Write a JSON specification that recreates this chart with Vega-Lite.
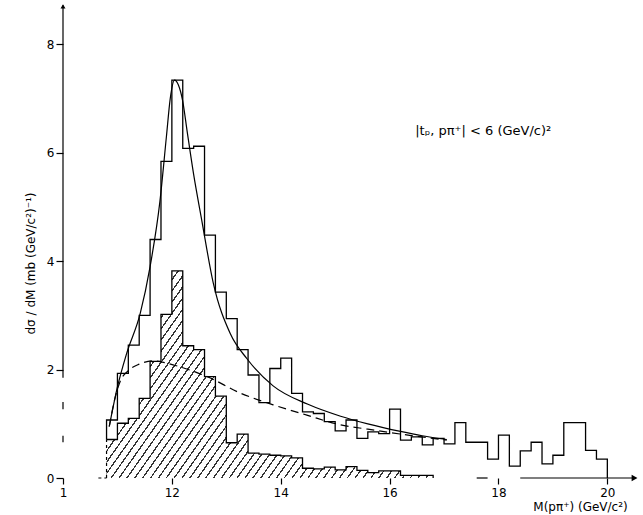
{
  "$schema": "https://vega.github.io/schema/vega-lite/v6.json",
  "width": 577,
  "height": 477,
  "autosize": "none",
  "padding": {"left": 63, "top": 1, "right": 3, "bottom": 37},
  "background": "white",
  "config": {
    "view": {"stroke": null},
    "font": "DejaVu Sans",
    "axis": {"labelColor": "black", "tickColor": "black", "titleColor": "black", "grid": false, "domain": false}
  },
  "datasets": {
    "all_events": [
      {"m": 1.08, "v": 0.71}, {"m": 1.08, "v": 1.07}, {"m": 1.10, "v": 1.93}, {"m": 1.12, "v": 2.45},
      {"m": 1.14, "v": 3.0}, {"m": 1.16, "v": 4.4}, {"m": 1.18, "v": 5.84}, {"m": 1.20, "v": 7.34},
      {"m": 1.22, "v": 6.08}, {"m": 1.24, "v": 6.12}, {"m": 1.26, "v": 4.48}, {"m": 1.28, "v": 3.43},
      {"m": 1.30, "v": 2.94}, {"m": 1.32, "v": 2.37}, {"m": 1.34, "v": 1.9}, {"m": 1.36, "v": 1.39},
      {"m": 1.38, "v": 2.02}, {"m": 1.40, "v": 2.21}, {"m": 1.42, "v": 1.56}, {"m": 1.44, "v": 1.22},
      {"m": 1.46, "v": 1.19}, {"m": 1.48, "v": 1.04}, {"m": 1.50, "v": 0.87}, {"m": 1.52, "v": 1.07},
      {"m": 1.54, "v": 0.73}, {"m": 1.56, "v": 0.85}, {"m": 1.58, "v": 0.82}, {"m": 1.60, "v": 1.27},
      {"m": 1.62, "v": 0.7}, {"m": 1.64, "v": 0.76}, {"m": 1.66, "v": 0.61}, {"m": 1.68, "v": 0.73},
      {"m": 1.70, "v": 0.63}, {"m": 1.72, "v": 1.02}, {"m": 1.74, "v": 0.66}, {"m": 1.76, "v": 0.66},
      {"m": 1.78, "v": 0.35}, {"m": 1.80, "v": 0.79}, {"m": 1.82, "v": 0.22}, {"m": 1.84, "v": 0.5},
      {"m": 1.86, "v": 0.66}, {"m": 1.88, "v": 0.26}, {"m": 1.90, "v": 0.42}, {"m": 1.92, "v": 1.02},
      {"m": 1.94, "v": 1.02}, {"m": 1.96, "v": 0.51}, {"m": 1.98, "v": 0.35}, {"m": 2.00, "v": 0}
    ],
    "selected": [
      {"m": 1.08, "v": 0.71}, {"m": 1.10, "v": 1.01}, {"m": 1.12, "v": 1.1}, {"m": 1.14, "v": 1.47},
      {"m": 1.16, "v": 2.15}, {"m": 1.18, "v": 3.02}, {"m": 1.20, "v": 3.82}, {"m": 1.22, "v": 2.44},
      {"m": 1.24, "v": 2.37}, {"m": 1.26, "v": 1.87}, {"m": 1.28, "v": 1.51}, {"m": 1.30, "v": 0.65},
      {"m": 1.32, "v": 0.81}, {"m": 1.34, "v": 0.46}, {"m": 1.36, "v": 0.44}, {"m": 1.38, "v": 0.42},
      {"m": 1.40, "v": 0.41}, {"m": 1.42, "v": 0.37}, {"m": 1.44, "v": 0.18}, {"m": 1.46, "v": 0.17},
      {"m": 1.48, "v": 0.2}, {"m": 1.50, "v": 0.15}, {"m": 1.52, "v": 0.21}, {"m": 1.54, "v": 0.14},
      {"m": 1.56, "v": 0.1}, {"m": 1.58, "v": 0.13}, {"m": 1.60, "v": 0.13}, {"m": 1.62, "v": 0.05},
      {"m": 1.64, "v": 0.05}, {"m": 1.66, "v": 0.05}, {"m": 1.68, "v": 0}
    ],
    "total_fit": [
      {"m": 1.085, "v": 0.95}, {"m": 1.10, "v": 1.68}, {"m": 1.117, "v": 2.3}, {"m": 1.142, "v": 3.04},
      {"m": 1.16, "v": 3.9}, {"m": 1.178, "v": 5.1}, {"m": 1.19, "v": 6.3}, {"m": 1.197, "v": 7.0},
      {"m": 1.205, "v": 7.34}, {"m": 1.212, "v": 7.25}, {"m": 1.22, "v": 6.95}, {"m": 1.228, "v": 6.4},
      {"m": 1.24, "v": 5.6}, {"m": 1.255, "v": 4.75}, {"m": 1.276, "v": 3.6}, {"m": 1.307, "v": 2.67},
      {"m": 1.338, "v": 2.2}, {"m": 1.386, "v": 1.7}, {"m": 1.45, "v": 1.36}, {"m": 1.51, "v": 1.14},
      {"m": 1.56, "v": 1.0}, {"m": 1.62, "v": 0.86}, {"m": 1.66, "v": 0.78}, {"m": 1.705, "v": 0.71}
    ],
    "background_fit": [
      {"m": 1.085, "v": 0.95}, {"m": 1.095, "v": 1.45}, {"m": 1.105, "v": 1.78}, {"m": 1.12, "v": 1.98},
      {"m": 1.14, "v": 2.1}, {"m": 1.165, "v": 2.16}, {"m": 1.19, "v": 2.12}, {"m": 1.215, "v": 2.05},
      {"m": 1.265, "v": 1.87}, {"m": 1.325, "v": 1.57}, {"m": 1.386, "v": 1.35}, {"m": 1.448, "v": 1.16},
      {"m": 1.51, "v": 0.98}, {"m": 1.56, "v": 0.9}, {"m": 1.62, "v": 0.81}, {"m": 1.705, "v": 0.7}
    ],
    "frame_solid": [
      {"m": 1.0, "m2": 1.0, "v": 1.85, "v2": 8.72},
      {"m": 1.0, "m2": 1.0, "v": 1.27, "v2": 1.40},
      {"m": 1.0, "m2": 1.0, "v": 0.66, "v2": 0.78},
      {"m": 1.76, "m2": 1.78, "v": 0, "v2": 0},
      {"m": 1.84, "m2": 2.05, "v": 0, "v2": 0}
    ],
    "frame_dashed": [
      {"m": 1.065, "m2": 1.08, "v": 0, "v2": 0},
      {"m": 1.08, "m2": 1.08, "v": 0, "v2": 0.71}
    ]
  },
  "encoding": {
    "x": {
      "field": "m", "type": "quantitative",
      "scale": {"domain": [1.0, 2.06], "nice": false, "zero": false},
      "axis": {
        "values": [1, 1.2, 1.4, 1.6, 1.8, 2],
        "labelExpr": "datum.value == 1 ? '1' : format(datum.value * 10, 'd')",
        "tickSize": 6, "tickWidth": 1.2, "labelFontSize": 12, "labelPadding": 3, "labelFlush": false,
        "title": "M(pπ⁺) (GeV/c²)", "titleFontSize": 12, "titleFontWeight": "normal",
        "titleX": 517, "titleY": 28, "titleAlign": "center", "titleBaseline": "middle"
      }
    },
    "y": {
      "field": "v", "type": "quantitative",
      "scale": {"domain": [0, 8.8], "nice": false, "zero": false},
      "axis": {
        "values": [0, 2, 4, 6, 8],
        "tickSize": 7, "tickWidth": 1.2, "labelFontSize": 12, "labelPadding": 2, "labelFlush": false,
        "title": "dσ / dM   (mb (GeV/c²)⁻¹)", "titleFontSize": 12, "titleFontWeight": "normal",
        "titleAngle": -90, "titleX": -33, "titleY": 262, "titleAlign": "center", "titleBaseline": "middle"
      }
    }
  },
  "layer": [
    {
      "data": {"name": "selected"},
      "mark": {
        "type": "area",
        "interpolate": "step-after",
        "stroke": null,
        "fill": {
          "gradient": "linear", "x1": 0, "y1": 0, "x2": 1.206, "y2": 0.538,
          "stops": [
            {"offset": 0, "color": "#333"}, {"offset": 0.0033, "color": "#333"}, {"offset": 0.0033, "color": "#fff"}, {"offset": 0.0167, "color": "#fff"},
            {"offset": 0.0167, "color": "#333"}, {"offset": 0.02, "color": "#333"}, {"offset": 0.02, "color": "#fff"}, {"offset": 0.0333, "color": "#fff"},
            {"offset": 0.0333, "color": "#333"}, {"offset": 0.0366, "color": "#333"}, {"offset": 0.0366, "color": "#fff"}, {"offset": 0.05, "color": "#fff"},
            {"offset": 0.05, "color": "#333"}, {"offset": 0.0533, "color": "#333"}, {"offset": 0.0533, "color": "#fff"}, {"offset": 0.0667, "color": "#fff"},
            {"offset": 0.0667, "color": "#333"}, {"offset": 0.07, "color": "#333"}, {"offset": 0.07, "color": "#fff"}, {"offset": 0.0833, "color": "#fff"},
            {"offset": 0.0833, "color": "#333"}, {"offset": 0.0866, "color": "#333"}, {"offset": 0.0866, "color": "#fff"}, {"offset": 0.1, "color": "#fff"},
            {"offset": 0.1, "color": "#333"}, {"offset": 0.1033, "color": "#333"}, {"offset": 0.1033, "color": "#fff"}, {"offset": 0.1167, "color": "#fff"},
            {"offset": 0.1167, "color": "#333"}, {"offset": 0.12, "color": "#333"}, {"offset": 0.12, "color": "#fff"}, {"offset": 0.1333, "color": "#fff"},
            {"offset": 0.1333, "color": "#333"}, {"offset": 0.1366, "color": "#333"}, {"offset": 0.1366, "color": "#fff"}, {"offset": 0.15, "color": "#fff"},
            {"offset": 0.15, "color": "#333"}, {"offset": 0.1533, "color": "#333"}, {"offset": 0.1533, "color": "#fff"}, {"offset": 0.1667, "color": "#fff"},
            {"offset": 0.1667, "color": "#333"}, {"offset": 0.17, "color": "#333"}, {"offset": 0.17, "color": "#fff"}, {"offset": 0.1833, "color": "#fff"},
            {"offset": 0.1833, "color": "#333"}, {"offset": 0.1866, "color": "#333"}, {"offset": 0.1866, "color": "#fff"}, {"offset": 0.2, "color": "#fff"},
            {"offset": 0.2, "color": "#333"}, {"offset": 0.2033, "color": "#333"}, {"offset": 0.2033, "color": "#fff"}, {"offset": 0.2167, "color": "#fff"},
            {"offset": 0.2167, "color": "#333"}, {"offset": 0.22, "color": "#333"}, {"offset": 0.22, "color": "#fff"}, {"offset": 0.2333, "color": "#fff"},
            {"offset": 0.2333, "color": "#333"}, {"offset": 0.2366, "color": "#333"}, {"offset": 0.2366, "color": "#fff"}, {"offset": 0.25, "color": "#fff"},
            {"offset": 0.25, "color": "#333"}, {"offset": 0.2533, "color": "#333"}, {"offset": 0.2533, "color": "#fff"}, {"offset": 0.2667, "color": "#fff"},
            {"offset": 0.2667, "color": "#333"}, {"offset": 0.27, "color": "#333"}, {"offset": 0.27, "color": "#fff"}, {"offset": 0.2833, "color": "#fff"},
            {"offset": 0.2833, "color": "#333"}, {"offset": 0.2866, "color": "#333"}, {"offset": 0.2866, "color": "#fff"}, {"offset": 0.3, "color": "#fff"},
            {"offset": 0.3, "color": "#333"}, {"offset": 0.3033, "color": "#333"}, {"offset": 0.3033, "color": "#fff"}, {"offset": 0.3167, "color": "#fff"},
            {"offset": 0.3167, "color": "#333"}, {"offset": 0.32, "color": "#333"}, {"offset": 0.32, "color": "#fff"}, {"offset": 0.3333, "color": "#fff"},
            {"offset": 0.3333, "color": "#333"}, {"offset": 0.3366, "color": "#333"}, {"offset": 0.3366, "color": "#fff"}, {"offset": 0.35, "color": "#fff"},
            {"offset": 0.35, "color": "#333"}, {"offset": 0.3533, "color": "#333"}, {"offset": 0.3533, "color": "#fff"}, {"offset": 0.3667, "color": "#fff"},
            {"offset": 0.3667, "color": "#333"}, {"offset": 0.37, "color": "#333"}, {"offset": 0.37, "color": "#fff"}, {"offset": 0.3833, "color": "#fff"},
            {"offset": 0.3833, "color": "#333"}, {"offset": 0.3866, "color": "#333"}, {"offset": 0.3866, "color": "#fff"}, {"offset": 0.4, "color": "#fff"},
            {"offset": 0.4, "color": "#333"}, {"offset": 0.4033, "color": "#333"}, {"offset": 0.4033, "color": "#fff"}, {"offset": 0.4167, "color": "#fff"},
            {"offset": 0.4167, "color": "#333"}, {"offset": 0.42, "color": "#333"}, {"offset": 0.42, "color": "#fff"}, {"offset": 0.4333, "color": "#fff"},
            {"offset": 0.4333, "color": "#333"}, {"offset": 0.4366, "color": "#333"}, {"offset": 0.4366, "color": "#fff"}, {"offset": 0.45, "color": "#fff"},
            {"offset": 0.45, "color": "#333"}, {"offset": 0.4533, "color": "#333"}, {"offset": 0.4533, "color": "#fff"}, {"offset": 0.4667, "color": "#fff"},
            {"offset": 0.4667, "color": "#333"}, {"offset": 0.47, "color": "#333"}, {"offset": 0.47, "color": "#fff"}, {"offset": 0.4833, "color": "#fff"},
            {"offset": 0.4833, "color": "#333"}, {"offset": 0.4866, "color": "#333"}, {"offset": 0.4866, "color": "#fff"}, {"offset": 0.5, "color": "#fff"},
            {"offset": 0.5, "color": "#333"}, {"offset": 0.5033, "color": "#333"}, {"offset": 0.5033, "color": "#fff"}, {"offset": 0.5167, "color": "#fff"},
            {"offset": 0.5167, "color": "#333"}, {"offset": 0.52, "color": "#333"}, {"offset": 0.52, "color": "#fff"}, {"offset": 0.5333, "color": "#fff"},
            {"offset": 0.5333, "color": "#333"}, {"offset": 0.5366, "color": "#333"}, {"offset": 0.5366, "color": "#fff"}, {"offset": 0.55, "color": "#fff"},
            {"offset": 0.55, "color": "#333"}, {"offset": 0.5533, "color": "#333"}, {"offset": 0.5533, "color": "#fff"}, {"offset": 0.5667, "color": "#fff"},
            {"offset": 0.5667, "color": "#333"}, {"offset": 0.57, "color": "#333"}, {"offset": 0.57, "color": "#fff"}, {"offset": 0.5833, "color": "#fff"},
            {"offset": 0.5833, "color": "#333"}, {"offset": 0.5866, "color": "#333"}, {"offset": 0.5866, "color": "#fff"}, {"offset": 0.6, "color": "#fff"},
            {"offset": 0.6, "color": "#333"}, {"offset": 0.6033, "color": "#333"}, {"offset": 0.6033, "color": "#fff"}, {"offset": 0.6167, "color": "#fff"},
            {"offset": 0.6167, "color": "#333"}, {"offset": 0.62, "color": "#333"}, {"offset": 0.62, "color": "#fff"}, {"offset": 0.6333, "color": "#fff"},
            {"offset": 0.6333, "color": "#333"}, {"offset": 0.6366, "color": "#333"}, {"offset": 0.6366, "color": "#fff"}, {"offset": 0.65, "color": "#fff"},
            {"offset": 0.65, "color": "#333"}, {"offset": 0.6533, "color": "#333"}, {"offset": 0.6533, "color": "#fff"}, {"offset": 0.6667, "color": "#fff"},
            {"offset": 0.6667, "color": "#333"}, {"offset": 0.67, "color": "#333"}, {"offset": 0.67, "color": "#fff"}, {"offset": 0.6833, "color": "#fff"},
            {"offset": 0.6833, "color": "#333"}, {"offset": 0.6866, "color": "#333"}, {"offset": 0.6866, "color": "#fff"}, {"offset": 0.7, "color": "#fff"},
            {"offset": 0.7, "color": "#333"}, {"offset": 0.7033, "color": "#333"}, {"offset": 0.7033, "color": "#fff"}, {"offset": 0.7167, "color": "#fff"},
            {"offset": 0.7167, "color": "#333"}, {"offset": 0.72, "color": "#333"}, {"offset": 0.72, "color": "#fff"}, {"offset": 0.7333, "color": "#fff"},
            {"offset": 0.7333, "color": "#333"}, {"offset": 0.7366, "color": "#333"}, {"offset": 0.7366, "color": "#fff"}, {"offset": 0.75, "color": "#fff"},
            {"offset": 0.75, "color": "#333"}, {"offset": 0.7533, "color": "#333"}, {"offset": 0.7533, "color": "#fff"}, {"offset": 0.7667, "color": "#fff"},
            {"offset": 0.7667, "color": "#333"}, {"offset": 0.77, "color": "#333"}, {"offset": 0.77, "color": "#fff"}, {"offset": 0.7833, "color": "#fff"},
            {"offset": 0.7833, "color": "#333"}, {"offset": 0.7866, "color": "#333"}, {"offset": 0.7866, "color": "#fff"}, {"offset": 0.8, "color": "#fff"},
            {"offset": 0.8, "color": "#333"}, {"offset": 0.8033, "color": "#333"}, {"offset": 0.8033, "color": "#fff"}, {"offset": 0.8167, "color": "#fff"},
            {"offset": 0.8167, "color": "#333"}, {"offset": 0.82, "color": "#333"}, {"offset": 0.82, "color": "#fff"}, {"offset": 0.8333, "color": "#fff"},
            {"offset": 0.8333, "color": "#333"}, {"offset": 0.8366, "color": "#333"}, {"offset": 0.8366, "color": "#fff"}, {"offset": 0.85, "color": "#fff"},
            {"offset": 0.85, "color": "#333"}, {"offset": 0.8533, "color": "#333"}, {"offset": 0.8533, "color": "#fff"}, {"offset": 0.8667, "color": "#fff"},
            {"offset": 0.8667, "color": "#333"}, {"offset": 0.87, "color": "#333"}, {"offset": 0.87, "color": "#fff"}, {"offset": 0.8833, "color": "#fff"},
            {"offset": 0.8833, "color": "#333"}, {"offset": 0.8866, "color": "#333"}, {"offset": 0.8866, "color": "#fff"}, {"offset": 0.9, "color": "#fff"},
            {"offset": 0.9, "color": "#333"}, {"offset": 0.9033, "color": "#333"}, {"offset": 0.9033, "color": "#fff"}, {"offset": 0.9167, "color": "#fff"},
            {"offset": 0.9167, "color": "#333"}, {"offset": 0.92, "color": "#333"}, {"offset": 0.92, "color": "#fff"}, {"offset": 0.9333, "color": "#fff"},
            {"offset": 0.9333, "color": "#333"}, {"offset": 0.9366, "color": "#333"}, {"offset": 0.9366, "color": "#fff"}, {"offset": 0.95, "color": "#fff"},
            {"offset": 0.95, "color": "#333"}, {"offset": 0.9533, "color": "#333"}, {"offset": 0.9533, "color": "#fff"}, {"offset": 0.9667, "color": "#fff"},
            {"offset": 0.9667, "color": "#333"}, {"offset": 0.97, "color": "#333"}, {"offset": 0.97, "color": "#fff"}, {"offset": 0.9833, "color": "#fff"},
            {"offset": 0.9833, "color": "#333"}, {"offset": 0.9866, "color": "#333"}, {"offset": 0.9866, "color": "#fff"}, {"offset": 1, "color": "#fff"}
          ]
        }
      },
      "encoding": {"order": {"value": null}}
    },
    {
      "data": {"name": "selected"},
      "mark": {"type": "line", "interpolate": "step-after", "color": "black", "strokeWidth": 1.3},
      "encoding": {"order": {"value": null}}
    },
    {
      "data": {"name": "all_events"},
      "mark": {"type": "line", "interpolate": "step-after", "color": "black", "strokeWidth": 1.3},
      "encoding": {"order": {"value": null}}
    },
    {
      "data": {"name": "total_fit"},
      "mark": {"type": "line", "interpolate": "monotone", "color": "black", "strokeWidth": 1.2}
    },
    {
      "data": {"name": "background_fit"},
      "mark": {"type": "line", "interpolate": "monotone", "color": "black", "strokeWidth": 1.2, "strokeDash": [8, 5]}
    },
    {
      "data": {"name": "frame_solid"},
      "mark": {"type": "rule", "color": "black", "strokeWidth": 1.2},
      "encoding": {"x2": {"field": "m2"}, "y2": {"field": "v2"}}
    },
    {
      "data": {"name": "frame_dashed"},
      "mark": {"type": "rule", "color": "black", "strokeWidth": 1.2, "strokeDash": [3, 3]},
      "encoding": {"x2": {"field": "m2"}, "y2": {"field": "v2"}}
    },
    {
      "data": {"values": [{"m": 2.05, "v": 0}]},
      "mark": {"type": "point", "shape": "triangle-right", "filled": true, "size": 45, "color": "black", "opacity": 1}
    },
    {
      "data": {"values": [{"m": 1.0, "v": 8.7}]},
      "mark": {"type": "point", "shape": "triangle-up", "filled": true, "size": 25, "color": "black", "opacity": 1}
    },
    {
      "data": {"values": [{"m": 1.647, "v": 6.4, "label": "|tₚ, pπ⁺| < 6 (GeV/c)²"}]},
      "mark": {"type": "text", "align": "left", "baseline": "middle", "fontSize": 13, "font": "DejaVu Sans", "color": "black"},
      "encoding": {"text": {"field": "label"}}
    }
  ]
}
